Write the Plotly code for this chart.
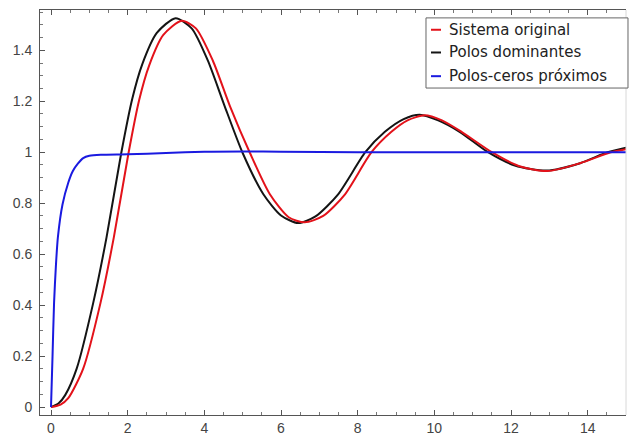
import plotly.graph_objects as go

# Step responses: original system, dominant-pole model, near pole-zero model
t_original = [0, 0.25, 0.45, 0.84, 1.29, 1.64, 2.02, 2.30, 2.56, 2.93, 3.41, 3.78, 4.22,
              4.67, 5.19, 5.71, 6.2, 6.62, 7.1, 7.67, 8.36, 8.88, 9.3, 9.75, 10.2, 10.71,
              11.5, 12.2, 12.95, 13.8, 14.6, 15.0]
y_original = [0, 0.01, 0.035, 0.151, 0.408, 0.667, 0.995, 1.205, 1.34, 1.46, 1.516, 1.486,
              1.36, 1.18, 0.997, 0.835, 0.745, 0.725, 0.75, 0.835, 1.0, 1.08, 1.125,
              1.145, 1.125, 1.08, 1.0, 0.946, 0.926, 0.957, 1.0, 1.012]

t_dominant = [0, 0.2, 0.37, 0.67, 1.10, 1.45, 1.83, 2.12, 2.38, 2.76, 3.25, 3.67, 4.09,
              4.52, 5.0, 5.54, 6.0, 6.45, 6.9, 7.49, 8.2, 8.71, 9.2, 9.62, 10.1, 10.66,
              11.4, 12.1, 12.93, 13.8, 14.52, 15.0]
y_dominant = [0, 0.015, 0.047, 0.151, 0.408, 0.667, 0.995, 1.21, 1.345, 1.468, 1.526,
              1.486, 1.36, 1.185, 0.997, 0.835, 0.752, 0.722, 0.748, 0.835, 1.0, 1.08,
              1.13, 1.147, 1.125, 1.08, 1.0, 0.948, 0.928, 0.957, 1.0, 1.018]

t_polezero = [0, 0.04, 0.08, 0.13, 0.18, 0.3, 0.45, 0.57, 0.7, 0.84, 1.0, 1.3, 2.0, 3.0,
              4.0, 5.0, 6.0, 8.0, 10.0, 12.0, 15.0]
y_polezero = [0, 0.2, 0.41, 0.56, 0.667, 0.795, 0.88, 0.926, 0.955, 0.977, 0.986, 0.99,
              0.992, 0.997, 1.002, 1.003, 1.002, 1.0, 1.0, 1.0, 1.0]

names = ["Sistema original", "Polos dominantes", "Polos-ceros próximos"]
colors = ["#e3121a", "#141414", "#1a1ae0"]

x_ticks = [0, 2, 4, 6, 8, 10, 12, 14]
y_ticks = [0, 0.2, 0.4, 0.6, 0.8, 1.0, 1.2, 1.4]
y_ticktext = ["0", "0.2", "0.4", "0.6", "0.8", "1", "1.2", "1.4"]

font_family = "Liberation Sans, Arial, sans-serif"

fig = go.Figure()

series = {
    0: (t_original, y_original),
    1: (t_dominant, y_dominant),
    2: (t_polezero, y_polezero),
}
for i in [1, 0, 2]:
    tx, ty = series[i]
    fig.add_trace(go.Scatter(
        x=tx, y=ty, mode="lines", name=names[i], showlegend=False,
        line=dict(color=colors[i], width=2, shape="spline", smoothing=0.7),
    ))

axis_common = dict(
    showgrid=False, zeroline=False, showline=True, linecolor="#555555", linewidth=1,
    ticks="inside", ticklen=5, tickcolor="#555555", tickwidth=1,
    tickfont=dict(family=font_family, size=14, color="#444444"),
)

fig.update_xaxes(
    range=[-0.287, 15.0], tickvals=x_ticks, mirror="ticks",
    minor=dict(dtick=0.5, ticks="inside", ticklen=3, tickcolor="#777777"),
    **axis_common,
)
fig.update_yaxes(
    range=[-0.031, 1.558], tickvals=y_ticks, ticktext=y_ticktext, mirror=False,
    ticklabelstandoff=4,
    minor=dict(dtick=0.05, ticks="inside", ticklen=3, tickcolor="#777777"),
    **axis_common,
)

# faint right edge of the frame
fig.add_shape(type="line", xref="paper", yref="paper", x0=1, x1=1, y0=0, y1=1,
              line=dict(color="#d8d8d8", width=1))

# legend box with short colour dashes, drawn in paper coordinates
fig.add_shape(type="rect", xref="paper", yref="paper",
              x0=0.6587, x1=1.0034, y0=0.8073, y1=0.9805,
              line=dict(color="#666666", width=1), fillcolor="white", layer="above")
legend_rows = [0.9512, 0.8951, 0.8366]
for name, color, yrow in zip(names, colors, legend_rows):
    fig.add_shape(type="line", xref="paper", yref="paper",
                  x0=0.6672, x1=0.6843, y0=yrow, y1=yrow,
                  line=dict(color=color, width=2), layer="above")
    fig.add_annotation(xref="paper", yref="paper", x=0.6945, y=yrow,
                       xanchor="left", yanchor="middle", showarrow=False, text=name,
                       font=dict(family="DejaVu Sans, sans-serif", size=15, color="#222222"))

fig.update_layout(
    width=633, height=443,
    margin=dict(l=40, r=7, t=10, b=23),
    paper_bgcolor="white", plot_bgcolor="white",
    showlegend=False,
)

fig.write_html("out.html")
